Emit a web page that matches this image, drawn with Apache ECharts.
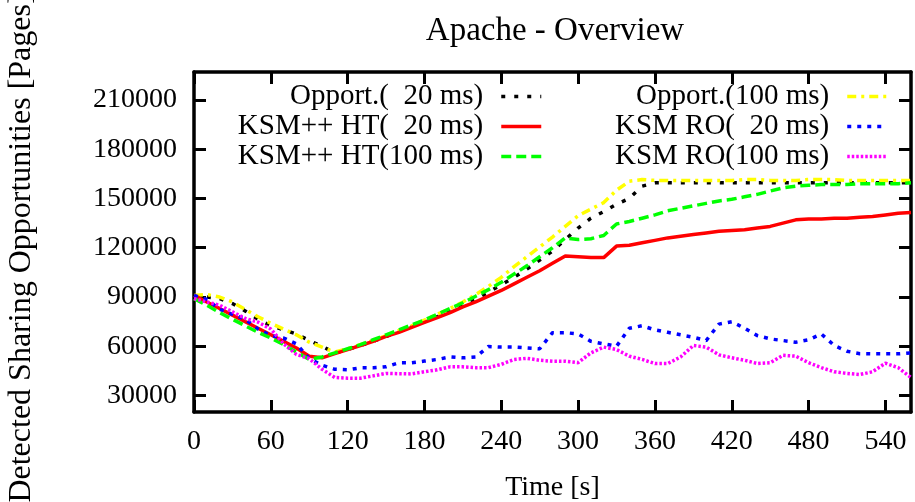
<!DOCTYPE html>
<html>
<head>
<meta charset="utf-8">
<script src="https://cdn.jsdelivr.net/npm/echarts@6/dist/echarts.min.js"></script>
<style>
  html, body { margin: 0; padding: 0; background: #fff; }
  #chart { width: 915px; height: 502px; }
</style>
</head>
<body>
<div id="chart"></div>
<script>
// 时间轴 (s)
var times = [0, 10, 20, 30, 40, 50, 60, 70, 80, 90, 100, 110, 120, 130, 140, 150, 160, 170, 180, 190,
  200, 210, 220, 230, 240, 250, 260, 270, 280, 290, 300, 310, 320, 330, 340, 350, 360, 370, 380, 390,
  400, 410, 420, 430, 440, 450, 460, 470, 480, 490, 500, 510, 520, 530, 540, 550, 560];

var opport20 = [91000, 90000, 89000, 86000, 81500, 76500, 72500, 70000, 67500, 63500, 60000, 56000, 58000, 60500, 63000, 66000, 69000, 72000, 75000, 78000,
  81500, 85000, 88500, 93000, 97500, 102000, 107000, 112500, 118000, 125000, 132000, 138000, 142000, 146500, 150000, 157500, 159500, 159500, 159500, 159500,
  159500, 159500, 159500, 159500, 159500, 159500, 159500, 159500, 159500, 159500, 159500, 159500, 159500, 159500, 159500, 159500, 159500];
var opport100 = [91000, 91500, 90000, 87000, 82500, 78000, 74000, 70500, 67000, 62500, 59500, 56500, 58500, 61000, 63500, 66500, 69500, 72500, 76000, 79500,
  83000, 87000, 91500, 96500, 102000, 108500, 114500, 120500, 126500, 133000, 139500, 143500, 147500, 155000, 160500, 161500, 161000, 161000, 161000, 161000,
  161000, 161000, 161000, 161500, 161500, 161000, 161000, 161000, 161500, 161500, 161500, 161000, 161000, 161000, 161000, 161000, 161000];
var ksmHt20 = [91000, 87000, 83000, 79000, 75000, 71000, 67000, 63000, 59000, 54000, 53000, 55500, 58000, 60500, 63000, 66000, 68500, 71500, 74500, 77500,
  80500, 84000, 87000, 90500, 94000, 98000, 102000, 106000, 110500, 115000, 114500, 114000, 114000, 121000, 121500, 123000, 124500, 126000, 127000, 128000,
  129000, 130000, 130500, 131000, 132000, 133000, 135000, 137000, 137500, 137500, 138000, 138000, 138500, 139000, 140000, 141000, 141500];
var ksmRo20 = [91000, 88500, 82500, 79500, 76500, 70500, 66500, 65000, 61500, 52500, 48500, 46000, 45700, 46900, 46900, 47500, 50000, 50000, 51000, 52000,
  53500, 53000, 53500, 59900, 59500, 59500, 59000, 58500, 68300, 68300, 67500, 63000, 61500, 60000, 71000, 72500, 70000, 68500, 67000, 65500,
  63500, 73500, 75000, 71000, 66500, 64500, 63500, 62500, 64000, 67500, 60500, 57000, 55500, 55400, 55400, 55400, 56000];
var ksmHt100 = [89000, 85000, 80500, 76500, 72500, 68500, 65000, 61000, 56500, 52000, 53500, 56000, 58500, 61000, 64000, 67000, 70000, 73000, 76000, 79500,
  83000, 86500, 90500, 94500, 99000, 104000, 109000, 114500, 120000, 126000, 125000, 125500, 127500, 134500, 136000, 138000, 140000, 142500, 144000, 145500,
  147000, 148500, 149500, 151000, 152500, 154500, 156500, 157500, 158000, 158500, 158500, 158500, 159000, 159000, 159000, 159000, 159500];
var ksmRo100 = [89000, 87000, 85000, 81000, 77000, 74700, 70500, 61500, 55000, 52500, 46000, 41000, 40600, 40600, 42000, 43500, 43300, 43200, 44500, 45700,
  47500, 47500, 47000, 47000, 49000, 52000, 52700, 51500, 50900, 50900, 50000, 56000, 59500, 58000, 54000, 52000, 49500, 49500, 53500, 60500,
  59500, 54800, 53000, 51500, 49500, 50000, 54500, 54000, 50000, 47000, 44500, 43500, 42800, 44500, 49700, 47000, 41000];

var xTicks = [0, 60, 120, 180, 240, 300, 360, 420, 480, 540];
var yTicks = [30000, 60000, 90000, 120000, 150000, 180000, 210000];

var names = ['Opport.(  20 ms)', 'Opport.(100 ms)', 'KSM++ HT(  20 ms)', 'KSM RO(  20 ms)', 'KSM++ HT(100 ms)', 'KSM RO(100 ms)'];

var FONT = 'Liberation Serif';

function pairs(vals) {
  return times.map(function (t, i) { return [t, vals[i]]; });
}

function mkSeries(name, vals, color, type) {
  return {
    name: name,
    type: 'line',
    data: pairs(vals),
    symbol: 'none',
    animation: false,
    lineStyle: { color: color, width: 3.5, type: type },
    itemStyle: { color: color }
  };
}

function axisBase() {
  return {
    axisLine: { show: true, onZero: false, lineStyle: { color: '#000', width: 3.5 } },
    splitLine: { show: false }
  };
}

function ticks(vals) {
  return { show: true, inside: true, length: 12, customValues: vals, lineStyle: { color: '#000', width: 3 } };
}

var myChart = echarts.init(document.getElementById('chart'));

var legendText = { fontFamily: FONT, fontSize: 29, color: '#000', lineHeight: 28, padding: [0, 13, 0, 0] };

function mkLegend(data, right) {
  return {
    data: data,
    orient: 'vertical',
    align: 'right',
    right: right,
    top: 82,
    padding: 0,
    itemGap: 1,
    itemWidth: 40,
    itemHeight: 14,
    itemStyle: { opacity: 0, borderWidth: 0 },
    lineStyle: { width: 3.5 },
    textStyle: legendText
  };
}

var options = {
  backgroundColor: '#fff',
  animation: false,
  title: {
    text: 'Apache - Overview',
    left: 550,
    top: 10,
    textAlign: 'center',
    textStyle: { fontFamily: FONT, fontSize: 33, fontWeight: 'normal', color: '#000' }
  },
  grid: { left: 194, right: 4, top: 72, bottom: 90, containLabel: false, outerBoundsMode: 'none' },
  legend: [
    mkLegend([names[0], names[2], names[4]], 372),
    mkLegend([names[1], names[3], names[5]], 26)
  ],
  xAxis: [
    Object.assign(axisBase(), {
      type: 'value',
      min: 0,
      max: 560,
      position: 'bottom',
      name: 'Time [s]',
      nameLocation: 'middle',
      nameGap: 62,
      nameTextStyle: { fontFamily: FONT, fontSize: 28, color: '#000' },
      axisTick: ticks(xTicks),
      axisLabel: { customValues: xTicks, margin: 16, fontFamily: FONT, fontSize: 28, color: '#000' }
    }),
    Object.assign(axisBase(), {
      type: 'value',
      min: 0,
      max: 560,
      position: 'top',
      axisTick: ticks(xTicks),
      axisLabel: { show: false }
    })
  ],
  yAxis: [
    Object.assign(axisBase(), {
      type: 'value',
      min: 20000,
      max: 227000,
      position: 'left',
      name: 'Detected Sharing Opportunities [Pages]',
      nameLocation: 'middle',
      nameGap: 156,
      nameTextStyle: { fontFamily: FONT, fontSize: 32, color: '#000', padding: [0, 12, 0, 0] },
      axisTick: ticks(yTicks),
      axisLabel: {
        customValues: yTicks, margin: 17, fontFamily: FONT, fontSize: 28, color: '#000',
        formatter: function (v) { return String(v); }
      }
    }),
    Object.assign(axisBase(), {
      type: 'value',
      min: 20000,
      max: 227000,
      position: 'right',
      axisTick: ticks(yTicks),
      axisLabel: { show: false }
    })
  ],
  series: [
    mkSeries(names[0], opport20, '#000000', [4, 9]),
    mkSeries(names[1], opport100, '#ffff00', [9, 5, 3, 5]),
    mkSeries(names[2], ksmHt20, '#ff0000', 'solid'),
    mkSeries(names[3], ksmRo20, '#0000ff', [4, 6]),
    mkSeries(names[4], ksmHt100, '#00ff00', [10, 5]),
    mkSeries(names[5], ksmRo100, '#ff00ff', [2.5, 2])
  ]
};

myChart.setOption(options);
</script>
</body>
</html>
